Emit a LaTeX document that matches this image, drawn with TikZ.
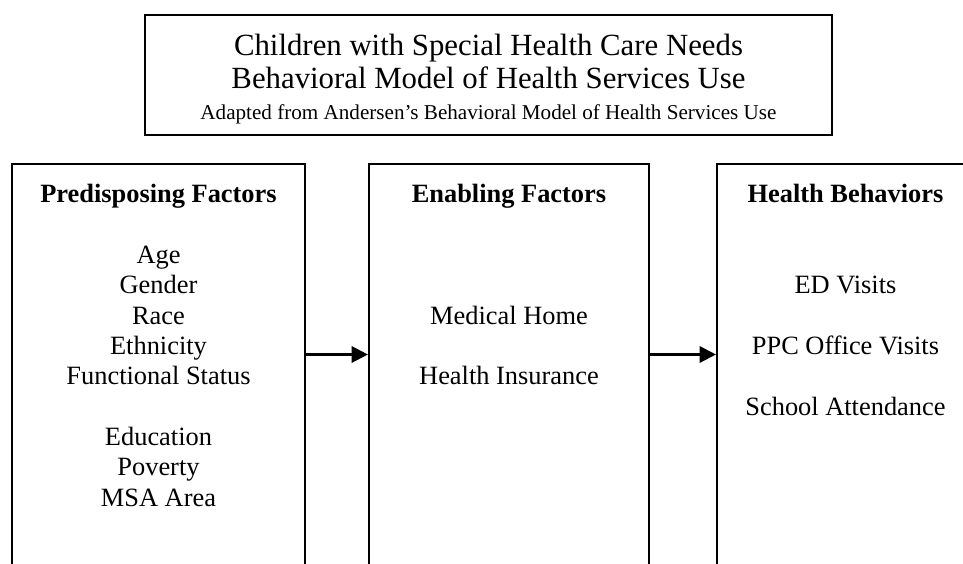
\documentclass[tikz,border=0pt]{standalone}
\usepackage{fontspec}
\setmainfont{Liberation Serif}
\usetikzlibrary{positioning,arrows.meta}

\begin{document}
\begin{tikzpicture}[x=0.4545pt,y=-0.4545pt,>={Triangle[length=7.4pt,width=7.4pt]},
  colbox/.style={draw,line width=0.95pt,anchor=north,inner sep=0pt,minimum height=200pt},
  coltext/.style={align=center,anchor=north,inner sep=0pt,font=\fontsize{12}{13.8}\selectfont},
  flow/.style={->,line width=1.1pt}]
\useasboundingbox (0,0) rectangle (963,563);
\clip (0,0) rectangle (963,563);

% heading
\node[draw,line width=1.1pt,minimum width=312.3pt,minimum height=54.5pt,inner sep=0pt] (title) at (488.5,75) {};
\node[align=center,inner sep=0pt,font=\fontsize{14}{15}\selectfont,below=0pt of title.center,anchor=center,yshift=-1.8pt] (titletext)
  {Children with Special Health Care Needs\\
   Behavioral Model of Health Services Use\\[-1pt]
   {\fontsize{9.6}{11}\selectfont Adapted from Andersen’s Behavioral Model of Health Services Use}};

% the three columns, running off the page at the bottom
\node[colbox,minimum width=133.2pt] (predis) at (158.5,163) {};
\node[colbox,minimum width=127.3pt] (enabl) at (509,163) {};
\node[colbox,minimum width=116.8pt] (behav) at (845.5,163) {};

\node[coltext,below=9.5pt of predis.north] (predistext)
  {\textbf{Predisposing Factors}\\ \\ Age\\ Gender\\ Race\\ Ethnicity\\ Functional Status\\ \\
   Education\\ Poverty\\ MSA Area};
\node[coltext,below=9.5pt of enabl.north] (enabltext)
  {\textbf{Enabling Factors}\\ \\ \\ \\ Medical Home\\ \\ Health Insurance};
\node[coltext,below=9.5pt of behav.north] (behavtext)
  {\textbf{Health Behaviors}\\ \\ \\ ED Visits\\ \\ PPC Office Visits\\ \\ School Attendance};

\coordinate (arrowrow) at (0,354.5);
\draw[flow] (predis.east |- arrowrow) -- (enabl.west |- arrowrow);
\draw[flow] (enabl.east |- arrowrow) -- (behav.west |- arrowrow);
\end{tikzpicture}
\end{document}
